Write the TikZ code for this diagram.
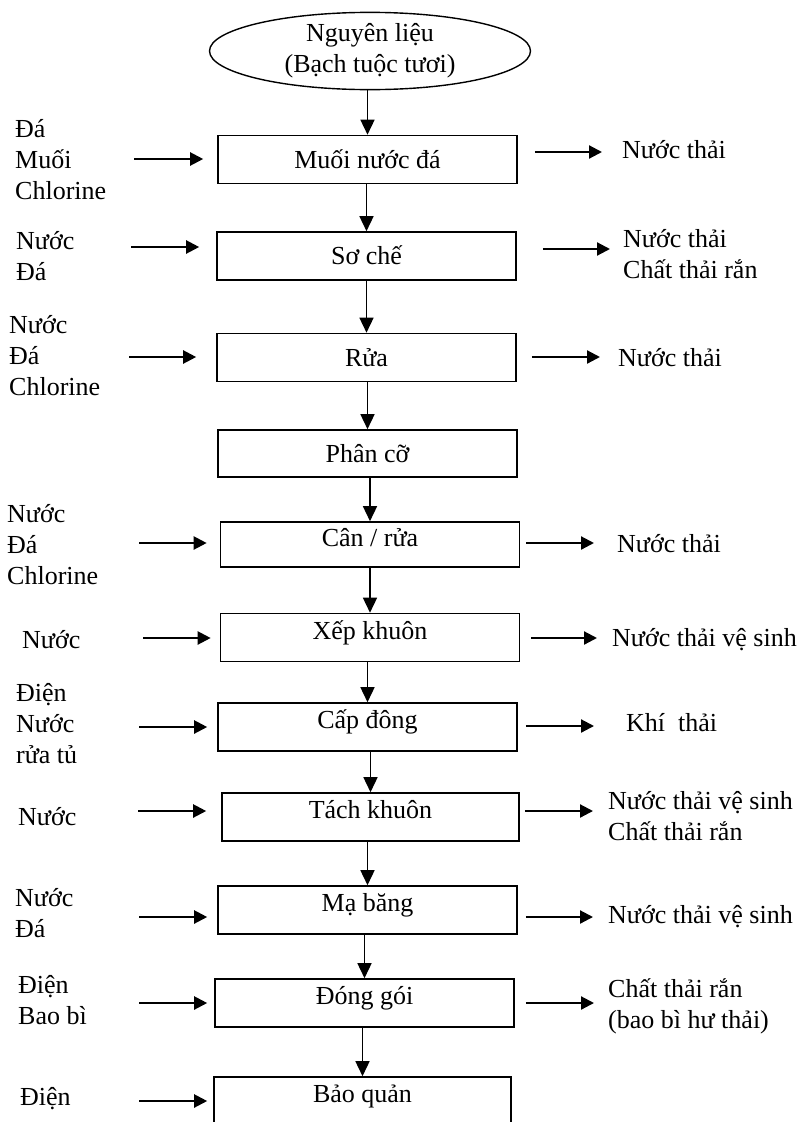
\documentclass[tikz,border=0pt]{standalone}
\usepackage{fontspec}
\setmainfont{Liberation Serif}
\usetikzlibrary{arrows.meta,shapes.geometric}
\tikzset{
    box/.style={draw, line width=1.6pt, minimum width=299pt, minimum height=48pt, inner sep=0pt, text height=20pt, text depth=3pt},
    boxhi/.style={box, text depth=17pt},
    lbl/.style={inner sep=0pt, align=left, anchor=west},
    down/.style={line width=1.5pt, -{Triangle[length=15pt,width=14pt]}},
    feed/.style={line width=2.2pt, -{Triangle[length=13pt,width=13pt]}},
}
\begin{document}
\begin{tikzpicture}[x=1pt, y=-1pt, font=\fontsize{26}{31}\selectfont] %Quy trình chế biến bạch tuộc
            \useasboundingbox (0,0) rectangle (810,1122);

            \node[draw, ellipse, line width=1.4pt, minimum width=321pt, minimum height=73pt, inner sep=0pt, align=center] (nl) at (370,51) {Nguyên liệu\\(Bạch tuộc tươi)};

            \node[box] (b1) at (367.5,159.5) {Muối nước đá};
            \node[box] (b2) at (366.5,256) {Sơ chế};
            \node[box] (b3) at (366.5,357.5) {Rửa};
            \node[box, minimum height=47pt] (b4) at (367.5,453.5) {Phân cỡ};
            \node[boxhi, minimum height=45pt] (b5) at (370,544.5) {Cân / rửa};
            \node[boxhi] (b6) at (370,637.5) {Xếp khuôn};
            \node[boxhi] (b7) at (367.5,727) {Cấp đông};
            \node[boxhi, minimum width=297pt] (b8) at (370.5,817) {Tách khuôn};
            \node[boxhi] (b9) at (367.5,910) {Mạ băng};
            \node[boxhi] (b10) at (364.5,1003) {Đóng gói};
            \node[boxhi, minimum width=297pt] (b11) at (362.5,1101) {Bảo quản};

            \draw[down] (nl.south -| b1.north) -- (b1.north);
            \draw[down] (b1.south -| b2.north) -- (b2.north);
            \draw[down] (b2.south -| b3.north) -- (b3.north);
            \draw[down] (b3.south -| b4.north) -- (b4.north);
            \draw[down] (b4.south -| b5.north) -- (b5.north);
            \draw[down] (b5.south -| b6.north) -- (b6.north);
            \draw[down] (b6.south -| b7.north) -- (b7.north);
            \draw[down] (b7.south -| b8.north) -- (b8.north);
            \draw[down] (b8.south -| b9.north) -- (b9.north);
            \draw[down] (b9.south -| b10.north) -- (b10.north);
            \draw[down] (b10.south -| b11.north) -- (b11.north);

            \node[lbl] (in1) at (15,160) {Đá\\Muối\\Chlorine};
            \node[lbl] (in2) at (16,256) {Nước\\Đá};
            \node[lbl] (in3) at (9,356) {Nước\\Đá\\Chlorine};
            \node[lbl] (in5) at (7,545) {Nước\\Đá\\Chlorine};
            \node[lbl] (in6) at (22,640) {Nước};
            \node[lbl] (in7) at (16,724) {Điện\\Nước\\rửa tủ};
            \node[lbl] (in8) at (18,817) {Nước};
            \node[lbl] (in9) at (15,913) {Nước\\Đá};
            \node[lbl] (in10) at (18,1000) {Điện\\Bao bì};
            \node[lbl] (in11) at (20,1099) {Điện};

            \node[lbl] (out1) at (622,150) {Nước thải};
            \node[lbl] (out2) at (623,254) {Nước thải\\Chất thải rắn};
            \node[lbl] (out3) at (618,358) {Nước thải};
            \node[lbl] (out5) at (617,544) {Nước thải};
            \node[lbl] (out6) at (612,640) {Nước thải vệ sinh};
            \node[lbl] (out7) at (626,723) {Khí\ \ thải};
            \node[lbl] (out8) at (608,816) {Nước thải vệ sinh\\Chất thải rắn};
            \node[lbl] (out9) at (608,917) {Nước thải vệ sinh};
            \node[lbl] (out10) at (608,1006) {Chất thải rắn\\(bao bì hư thải)};

            \coordinate (l1) at (134,159);
            \coordinate (l2) at (131,247);
            \coordinate (l3) at (129,357);
            \coordinate (l5) at (139,543);
            \coordinate (l6) at (143,638);
            \coordinate (l7) at (139,727);
            \coordinate (l8) at (138,811);
            \coordinate (l9) at (139,917);
            \coordinate (l10) at (139,1003);
            \coordinate (l11) at (139,1101);

            \draw[feed, shorten >=14pt] (l1) -- (l1 -| b1.west);
            \draw[feed, shorten >=17pt] (l2) -- (l2 -| b2.west);
            \draw[feed, shorten >=20pt] (l3) -- (l3 -| b3.west);
            \draw[feed, shorten >=13pt] (l5) -- (l5 -| b5.west);
            \draw[feed, shorten >=9pt] (l6) -- (l6 -| b6.west);
            \draw[feed, shorten >=10pt] (l7) -- (l7 -| b7.west);
            \draw[feed, shorten >=15pt] (l8) -- (l8 -| b8.west);
            \draw[feed, shorten >=10pt] (l9) -- (l9 -| b9.west);
            \draw[feed, shorten >=7pt] (l10) -- (l10 -| b10.west);
            \draw[feed, shorten >=6pt] (l11) -- (l11 -| b11.west);

            \coordinate (r1) at (602,152);
            \coordinate (r2) at (610,249);
            \coordinate (r3) at (600,357);
            \coordinate (r5) at (594,543);
            \coordinate (r6) at (597,638);
            \coordinate (r7) at (594,726);
            \coordinate (r8) at (593,811);
            \coordinate (r9) at (593,917);
            \coordinate (r10) at (594,1003);

            \draw[feed, shorten <=17pt] (r1 -| b1.east) -- (r1);
            \draw[feed, shorten <=26pt] (r2 -| b2.east) -- (r2);
            \draw[feed, shorten <=15pt] (r3 -| b3.east) -- (r3);
            \draw[feed, shorten <=6pt] (r5 -| b5.east) -- (r5);
            \draw[feed, shorten <=11pt] (r6 -| b6.east) -- (r6);
            \draw[feed, shorten <=8pt] (r7 -| b7.east) -- (r7);
            \draw[feed, shorten <=5pt] (r8 -| b8.east) -- (r8);
            \draw[feed, shorten <=8pt] (r9 -| b9.east) -- (r9);
            \draw[feed, shorten <=11pt] (r10 -| b10.east) -- (r10);
\end{tikzpicture}
\end{document}
